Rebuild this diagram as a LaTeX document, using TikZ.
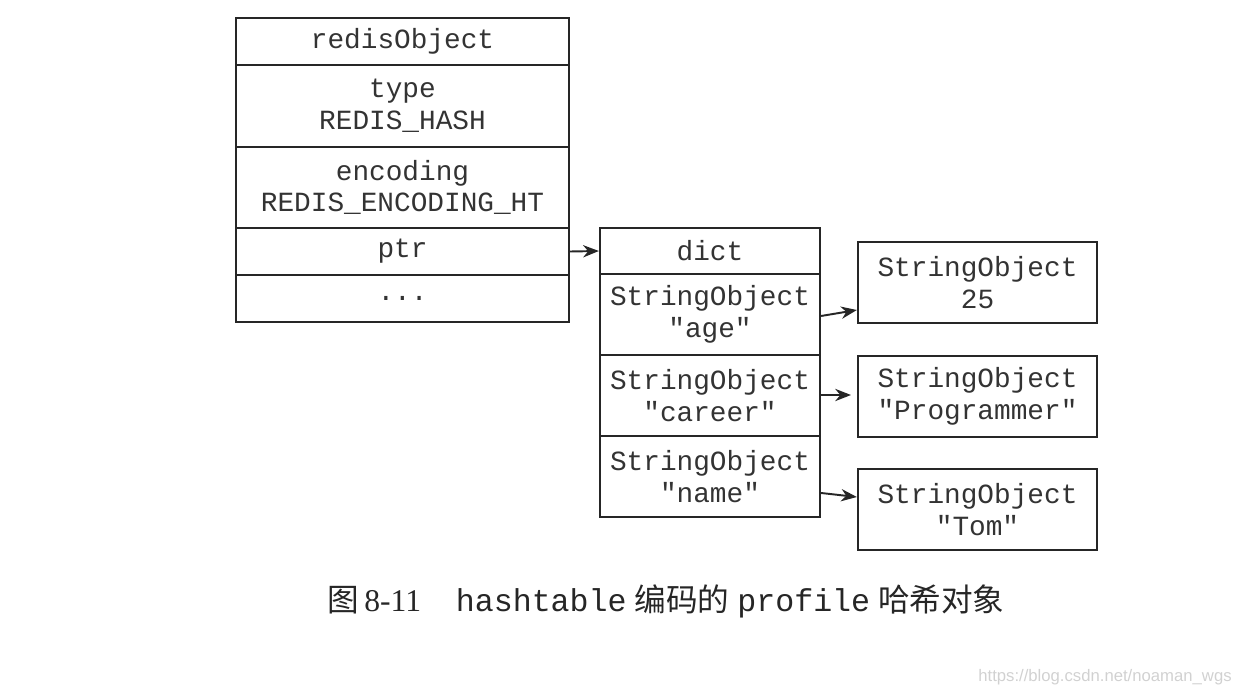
\documentclass[tikz,border=0pt]{standalone}
\usepackage{fontspec}
\setmainfont{Liberation Serif}
\newfontfamily\monof{Liberation Mono}
\newfontfamily\cjk{Noto Sans CJK SC}
\newfontfamily\wmf{Liberation Sans}
\usetikzlibrary{arrows.meta}
\begin{document}
\begin{tikzpicture}[x=0.02cm,y=-0.02cm,
  cell/.style={draw=black!85,line width=1.3pt,rectangle,inner sep=0pt,align=center,
    font=\monof\fontsize{15.8pt}{18pt}\selectfont,text=black!80},
  lcell/.style={cell,minimum width=6.66cm},
  dcell/.style={cell,minimum width=4.4cm},
  vcell/.style={cell,minimum width=4.78cm,minimum height=1.62cm},
  link/.style={line width=1.1pt,draw=black!85,-{Stealth[length=9pt,width=7pt]}}]
\useasboundingbox (0,0) rectangle (1242,696);
% redisObject
\node[lcell,minimum height=0.94cm] (r0) at (402.5,41.5) {redisObject};
\node[lcell,minimum height=1.64cm] (r1) at (402.5,106) {type\\REDIS\_HASH};
\node[lcell,minimum height=1.62cm] (r2) at (402.5,187.5) {encoding\\REDIS\_ENCODING\_HT};
\node[lcell,minimum height=0.94cm] (r3) at (402.5,251.5) {ptr};
\node[lcell,minimum height=0.94cm] (r4) at (402.5,298.5) {...};
% dict
\node[dcell,minimum height=0.92cm] (d0) at (710,251) {dict};
\node[dcell,minimum height=1.62cm] (d1) at (710,314.5) {StringObject\\"age"};
\node[dcell,minimum height=1.62cm] (d2) at (710,395.5) {StringObject\\"career"};
\node[dcell,minimum height=1.62cm] (d3) at (710,476.5) {StringObject\\"name"};
% values
\node[vcell] (v1) at (977.5,282.5) {StringObject\\25};
\node[vcell] (v2) at (977.5,396.5) {StringObject\\"Programmer"};
\node[vcell] (v3) at (977.5,509.5) {StringObject\\"Tom"};
% connectors
\draw[link] (r3.east) -- (d0.west);
\draw[link] (d1.east |- 0,316) -- (v1.west |- 0,310);
\coordinate (c2) at (851,395);
\draw[link] (d2.east |- 0,395) -- (c2);
\draw[link] (d3.east |- 0,493) -- (v3.west |- 0,497);
% caption
\node[inner sep=0pt,anchor=center,text=black!85] (cap) at (666,601)
  {\fontsize{18pt}{20pt}\selectfont{\cjk 图}\,8-11\hspace{1.1em}{\monof hashtable}\hspace{0.25em}{\cjk 编码的}\hspace{0.25em}{\monof profile}\hspace{0.25em}{\cjk 哈希对象}};
% watermark
\node[inner sep=0pt,anchor=east,text=black!18] (wm) at (1232,677)
  {\wmf\fontsize{9.5pt}{11pt}\selectfont https://blog.csdn.net/noaman\_wgs};
\end{tikzpicture}
\end{document}
